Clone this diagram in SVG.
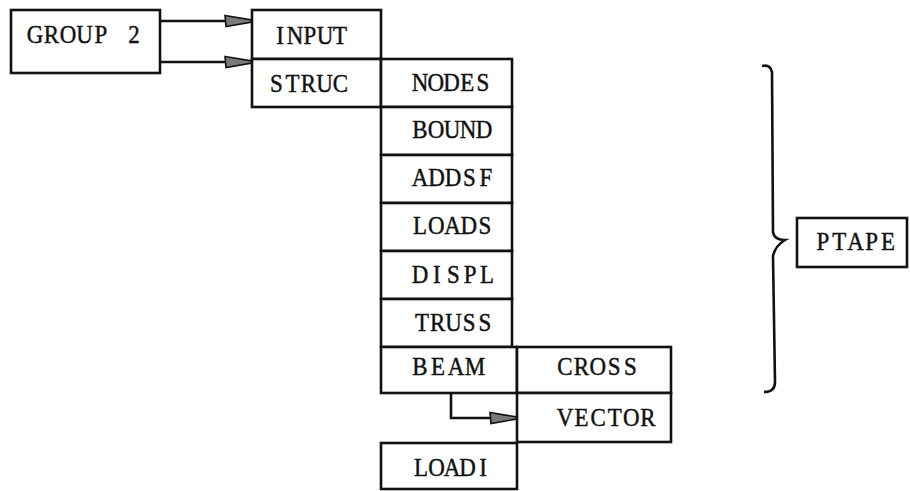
<svg xmlns="http://www.w3.org/2000/svg" width="910" height="491" viewBox="0 0 910 491">
<style>
.box{fill:#fff;stroke:#111;stroke-width:2.6}
.t{font-family:"Liberation Serif","Times New Roman",serif;font-size:25.5px;fill:#111;stroke:#111;stroke-width:0.45;text-anchor:middle}
.c{fill:none;stroke:#111;stroke-width:2.6}
</style>
<defs>
<marker id="ah" markerUnits="userSpaceOnUse" markerWidth="30" markerHeight="14" refX="27" refY="6" orient="auto" overflow="visible">
<path d="M0,0.5 L27,5 L27,7 L1,11.5 Z" fill="#7a7a7a" stroke="#111" stroke-width="1.6"/>
</marker>
</defs>
<rect width="910" height="491" fill="#fff"/>
<g id="connectors">
<path class="c" d="M160,21 H252" marker-end="url(#ah)"/>
<path class="c" d="M160,62 H252" marker-end="url(#ah)"/>
<path class="c" d="M451,393 V418 H517" marker-end="url(#ah)"/>
<path class="c" d="M762,66 Q770,64 772,72 L773,232 Q774,240 785,240 Q775,246 773,256 L775,382 Q775,392 764,392"/>
</g>
<g id="group2"><rect class="box" x="11" y="10" width="149" height="63"/><text class="t" transform="scale(0.9 1)" x="38.89 57.22 75.56 93.89 112.22 130.56 148.89" y="43">GROUP 2</text></g>
<g id="input"><rect class="box" x="252" y="10" width="129" height="49"/><text class="t" transform="scale(0.9 1)" x="311.11 327.78 344.44 361.11 377.78" y="44">INPUT</text></g>
<g id="struc"><rect class="box" x="252" y="59" width="129" height="48"/><text class="t" transform="scale(0.9 1)" x="307.22 325.00 342.78 360.56 378.33" y="92">STRUC</text></g>
<g id="nodes"><rect class="box" x="381" y="59" width="131" height="48"/><text class="t" transform="scale(0.9 1)" x="466.67 484.17 501.67 519.17 536.67" y="91">NODES</text></g>
<g id="bound"><rect class="box" x="381" y="107" width="131" height="48"/><text class="t" transform="scale(0.9 1)" x="466.67 484.44 502.22 520.00 537.78" y="138">BOUND</text></g>
<g id="addsf"><rect class="box" x="381" y="155" width="131" height="48"/><text class="t" transform="scale(0.9 1)" x="466.67 485.00 503.33 521.67 540.00" y="186.5">ADDSF</text></g>
<g id="loads"><rect class="box" x="381" y="203" width="131" height="48"/><text class="t" transform="scale(0.9 1)" x="466.67 484.72 502.78 520.83 538.89" y="234">LOADS</text></g>
<g id="displ"><rect class="box" x="381" y="251" width="131" height="48"/><text class="t" transform="scale(0.9 1)" x="466.67 485.28 503.89 522.50 541.11" y="283">DISPL</text></g>
<g id="truss"><rect class="box" x="381" y="299" width="131" height="48"/><text class="t" transform="scale(0.9 1)" x="468.89 486.39 503.89 521.39 538.89" y="331.5">TRUSS</text></g>
<g id="beam"><rect class="box" x="381" y="347" width="136" height="46"/><text class="t" transform="scale(0.9 1)" x="466.67 486.67 506.67 527.78" y="375">BEAM</text></g>
<g id="cross"><rect class="box" x="517" y="347" width="154" height="46"/><text class="t" transform="scale(0.9 1)" x="627.78 646.00 664.17 682.33 700.56" y="375">CROSS</text></g>
<g id="vector"><rect class="box" x="517" y="393" width="154" height="49"/><text class="t" transform="scale(0.9 1)" x="627.78 646.22 664.67 683.11 701.56 720.00" y="426.5">VECTOR</text></g>
<g id="loadi"><rect class="box" x="381" y="443" width="136" height="46"/><text class="t" transform="scale(0.9 1)" x="467.78 485.00 502.22 519.44 536.67" y="476">LOADI</text></g>
<g id="ptape"><rect class="box" x="797" y="218" width="110" height="49"/><text class="t" transform="scale(0.9 1)" x="914.44 932.50 950.56 968.61 986.67" y="250">PTAPE</text></g>
</svg>
